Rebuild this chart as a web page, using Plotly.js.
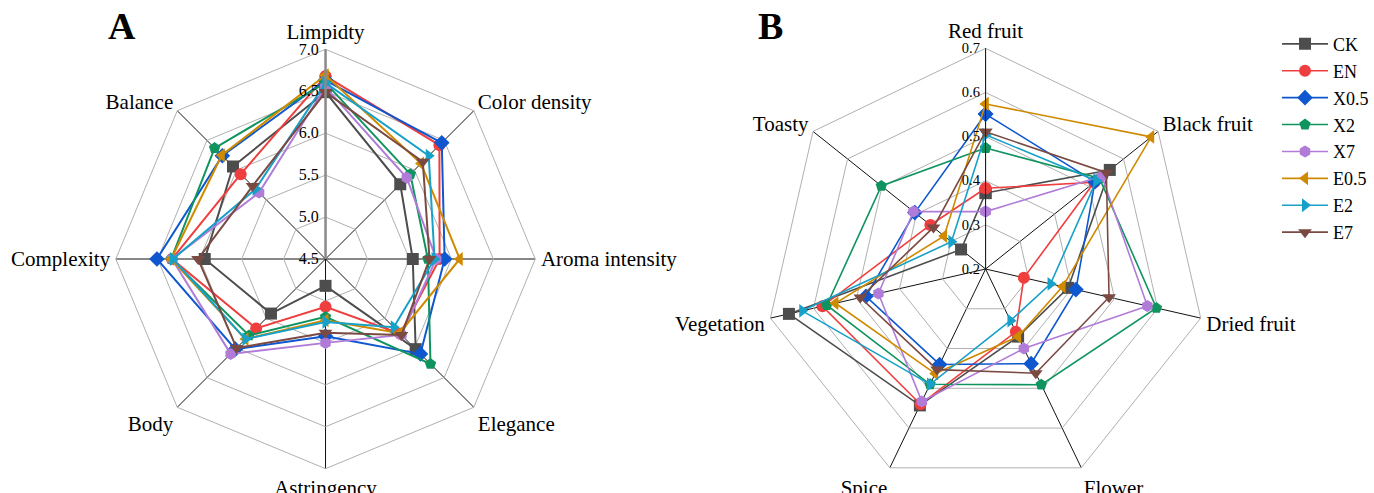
<!DOCTYPE html>
<html>
<head>
<meta charset="utf-8">
<script src="https://cdn.plot.ly/plotly-3.0.1.min.js"></script>
<style>html,body{margin:0;padding:0;background:#fff;}#chart{width:1374px;height:493px;}</style>
</head>
<body>
<div id="chart"></div>
<script>
// ---- Data ----
const seriesNames = ["CK", "EN", "X0.5", "X2", "X7", "E0.5", "E2", "E7"];

const attributesA = ["Limpidty", "Color density", "Aroma intensity", "Elegance", "Astringency", "Body", "Complexity", "Balance"];
const valuesA_CK   = [6.49, 5.76, 5.54, 6.02, 4.82, 5.42, 5.94, 6.06];
const valuesA_EN   = [6.68, 6.42, 5.86, 5.76, 5.07, 5.67, 6.33, 5.93];
const valuesA_X05  = [6.63, 6.46, 5.92, 6.10, 5.42, 6.02, 6.51, 6.24];
const valuesA_X2   = [6.60, 5.93, 5.72, 6.27, 5.19, 5.79, 6.34, 6.37];
const valuesA_X7   = [6.55, 5.87, 5.82, 5.78, 5.50, 6.10, 6.33, 5.62];
const valuesA_E05  = [6.69, 6.11, 6.10, 5.75, 5.23, 5.85, 6.34, 6.25];
const valuesA_E2   = [6.60, 6.24, 5.80, 5.65, 5.25, 5.85, 6.32, 5.68];
const valuesA_E7   = [6.49, 6.14, 5.74, 5.78, 5.38, 6.00, 6.02, 5.73];
const ticksA = [4.5, 5.0, 5.5, 6.0, 6.5, 7.0];

const attributesB = ["Red fruit", "Black fruit", "Dried fruit", "Flower", "Spice", "Vegetation", "Toasty"];
const valuesB_CK   = [0.372, 0.560, 0.392, 0.370, 0.543, 0.657, 0.271];
const valuesB_EN   = [0.383, 0.515, 0.289, 0.358, 0.540, 0.579, 0.360];
const valuesB_X05  = [0.551, 0.517, 0.410, 0.438, 0.440, 0.478, 0.405];
const valuesB_X2   = [0.474, 0.530, 0.597, 0.491, 0.490, 0.569, 0.502];
const valuesB_X7   = [0.330, 0.537, 0.576, 0.400, 0.533, 0.449, 0.409];
const valuesB_E05  = [0.574, 0.680, 0.379, 0.370, 0.463, 0.549, 0.320];
const valuesB_E2   = [0.504, 0.521, 0.351, 0.330, 0.490, 0.626, 0.299];
const valuesB_E7   = [0.511, 0.550, 0.487, 0.462, 0.453, 0.491, 0.351];
const ticksB = [0.2, 0.3, 0.4, 0.5, 0.6, 0.7];

// ---- Styles ----
const colors  = ["#4d4d4d", "#ef3e3e", "#0f57cf", "#0f9460", "#b07cd8", "#cf8a00", "#17a1c8", "#7a4a42"];
const symbols = ["square", "circle", "diamond", "pentagon", "hexagon", "triangle-left", "triangle-right", "triangle-down"];
const serif = "Liberation Serif, Times New Roman, serif";

const dataA = [valuesA_CK, valuesA_EN, valuesA_X05, valuesA_X2, valuesA_X7, valuesA_E05, valuesA_E2, valuesA_E7];
const dataB = [valuesB_CK, valuesB_EN, valuesB_X05, valuesB_X2, valuesB_X7, valuesB_E05, valuesB_E2, valuesB_E7];

function close(arr) { return arr.concat([arr[0]]); }

const traces = [];
dataA.forEach((vals, i) => {
  traces.push({
    type: "scatterpolar", subplot: "polar", mode: "lines+markers",
    r: close(vals), theta: close(attributesA), name: seriesNames[i],
    showlegend: false, legendgroup: seriesNames[i],
    line: {color: colors[i], width: 2},
    marker: {symbol: symbols[i], size: 12, color: colors[i]},
    cliponaxis: false
  });
});
dataB.forEach((vals, i) => {
  traces.push({
    type: "scatterpolar", subplot: "polar2", mode: "lines+markers",
    r: close(vals), theta: close(attributesB), name: seriesNames[i],
    showlegend: true, legendgroup: seriesNames[i],
    line: {color: colors[i], width: 1.6},
    marker: {symbol: symbols[i], size: 12, color: colors[i]},
    cliponaxis: false
  });
});

const W = 1374, H = 493;
function dom(cx, cy, R) {
  return {x: [(cx - R) / W, (cx + R) / W], y: [(H - cy - R) / H, (H - cy + R) / H]};
}

const layout = {
  width: W, height: H,
  margin: {l: 0, r: 0, t: 0, b: 0},
  paper_bgcolor: "#fff",
  font: {family: serif, color: "#000"},
  showlegend: true,
  legend: {
    x: 0.931, y: 0.948, xanchor: "left", yanchor: "top",
    font: {family: serif, size: 18, color: "#000"},
    itemwidth: 46, tracegroupgap: 0.5, bgcolor: "rgba(0,0,0,0)"
  },
  polar: {
    domain: dom(326, 259, 210),
    gridshape: "linear",
    bgcolor: "#fff",
    radialaxis: {
      range: [4.5, 7.0], tickvals: ticksA, tickformat: ".1f", angle: 90, tickangle: 90,
      showline: true, linecolor: "#8a8a8a", linewidth: 2.5,
      gridcolor: "#b0b0b0", gridwidth: 1, ticks: "", side: "counterclockwise",
      tickfont: {family: serif, size: 16, color: "#000"}
    },
    angularaxis: {
      direction: "clockwise", rotation: 90, type: "category",
      categoryarray: attributesA,
      showline: true, linecolor: "#b0b0b0", linewidth: 1,
      gridcolor: "#111", gridwidth: 1,
      ticks: "outside", ticklen: 1, tickcolor: "rgba(0,0,0,0)",
      tickfont: {family: serif, size: 21, color: "#000"}
    }
  },
  polar2: {
    domain: dom(987, 269, 221),
    gridshape: "linear",
    bgcolor: "#fff",
    radialaxis: {
      range: [0.2, 0.7], tickvals: ticksB, tickformat: ".1f", angle: 90, tickangle: 90,
      showline: true, linecolor: "#222", linewidth: 1,
      gridcolor: "#b0b0b0", gridwidth: 1, ticks: "", side: "counterclockwise",
      tickfont: {family: serif, size: 14.5, color: "#000"}
    },
    angularaxis: {
      direction: "clockwise", rotation: 90, type: "category",
      categoryarray: attributesB,
      showline: true, linecolor: "#b0b0b0", linewidth: 1,
      gridcolor: "#111", gridwidth: 1,
      ticks: "outside", ticklen: 1, tickcolor: "rgba(0,0,0,0)",
      tickfont: {family: serif, size: 21, color: "#000"}
    }
  },
  annotations: [
    {text: "<b>A</b>", xref: "paper", yref: "paper", x: 106 / W, y: 1 - 26 / H, xanchor: "left", yanchor: "middle",
     showarrow: false, font: {family: serif, size: 38, color: "#000"}},
    {text: "<b>B</b>", xref: "paper", yref: "paper", x: 757 / W, y: 1 - 26 / H, xanchor: "left", yanchor: "middle",
     showarrow: false, font: {family: serif, size: 38, color: "#000"}}
  ]
};

Plotly.newPlot("chart", traces, layout, {displayModeBar: false, staticPlot: true});
</script>
</body>
</html>
